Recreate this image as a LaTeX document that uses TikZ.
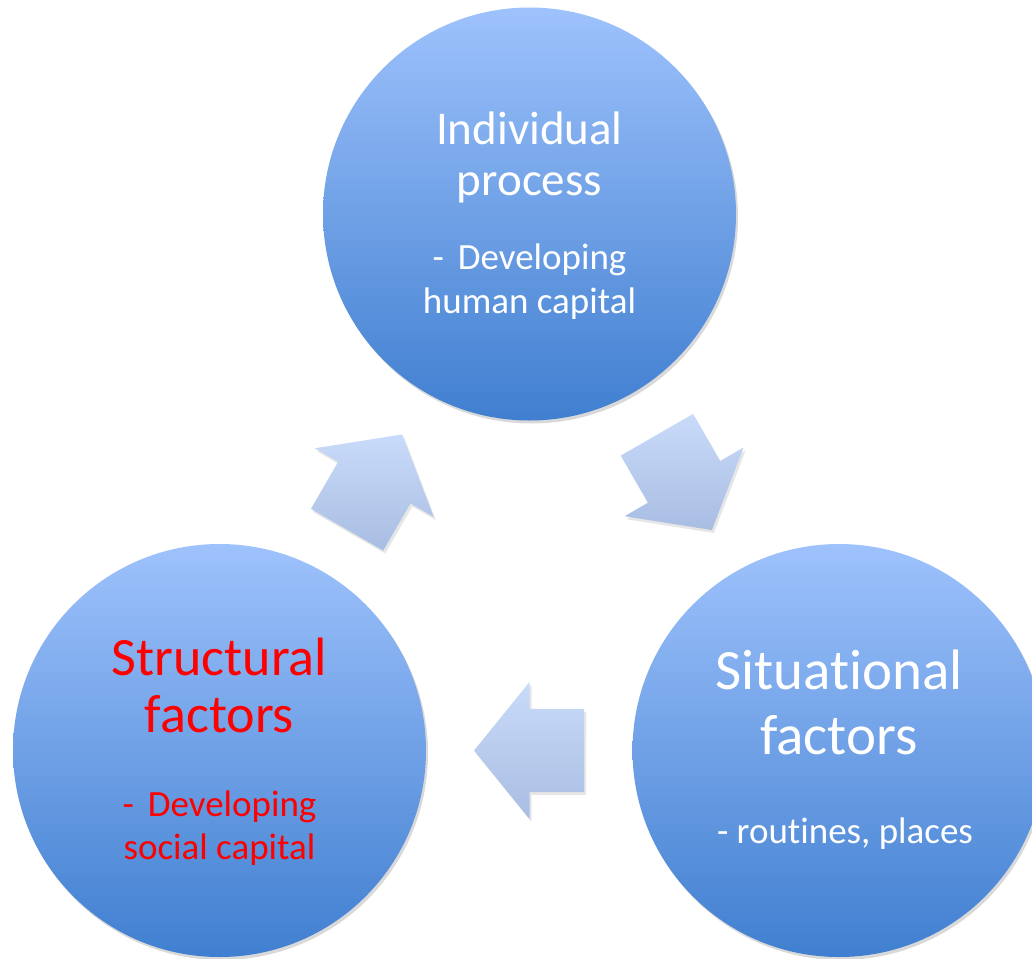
\documentclass[tikz,border=0pt]{standalone}
\usepackage{fontspec}
\setmainfont{Carlito}[Ligatures=NoCommon]
\usetikzlibrary{positioning,calc,shapes.arrows,shadows}

\definecolor{ballTop}{RGB}{158,194,252}
\definecolor{ballBot}{RGB}{64,127,208}
\definecolor{flowTop}{RGB}{201,219,250}
\definecolor{flowBot}{RGB}{168,189,226}

\tikzset{
  ball/.style={circle, minimum size=413pt, inner sep=0pt,
    top color=ballTop, bottom color=ballBot,
    drop shadow={shadow xshift=2pt, shadow yshift=-3pt, opacity=.3}},
  flow/.style={single arrow, inner xsep=0pt, inner ysep=41.5pt,
    minimum height=110pt, single arrow head extend=27pt,
    single arrow tip angle=102, top color=flowTop, bottom color=flowBot,
    drop shadow={shadow xshift=2pt, shadow yshift=-3pt, opacity=.2}},
  ttl/.style={text=white, align=center, inner sep=0pt},
  sub/.style={text=white, align=center, inner sep=0pt,
    font=\fontsize{37}{44}\selectfont},
}

\begin{document}
\begin{tikzpicture}[x=1pt,y=-1pt]
\useasboundingbox (0,0) rectangle (1032,958);

% the three circles
\node[ball] (indiv) at (529.5,214) {};
\node[ball] (struct) at (219.5,750.5) {};
\node[ball] (situ) at (839,750.5) {};

% texts
\node[ttl, font=\fontsize{47}{51}\selectfont] (indivT) at ([yshift=56.5pt]indiv.center) {Individual\\process};
\node[sub] (indivS) at ([yshift=-68pt]indiv.center) {-\hspace{14pt}Developing\\human capital};
\node[ttl, text=red, font=\fontsize{54}{57}\selectfont] (structT) at ([yshift=65pt]struct.center) {Structural\\factors};
\node[sub, text=red, font=\fontsize{37}{43}\selectfont] (structS) at ([yshift=-77.5pt]struct.center) {-\hspace{14pt}Developing\\social capital};
\node[ttl, font=\fontsize{57}{65}\selectfont] (situT) at ([yshift=48pt]situ.center) {Situational\\factors};
\node[sub] (situS) at ([xshift=6pt,yshift=-83.5pt]situ.center) {- routines, places};

% block arrows between the circles
\coordinate (m1) at ($(struct)!.5!(indiv)$);
\coordinate (m2) at ($(indiv)!.5!(situ)$);
\coordinate (m3) at ($(situ)!.5!(struct)$);
\node[flow, rotate=60, anchor=tail] (a1) at ($(m1)!55pt!(struct)$) {};
\node[flow, rotate=-60, anchor=tail] (a2) at ($(m2)!55pt!(indiv)$) {};
\node[flow, rotate=180, anchor=tail] (a3) at ($(m3)!55pt!(situ)$) {};
\end{tikzpicture}
\end{document}
